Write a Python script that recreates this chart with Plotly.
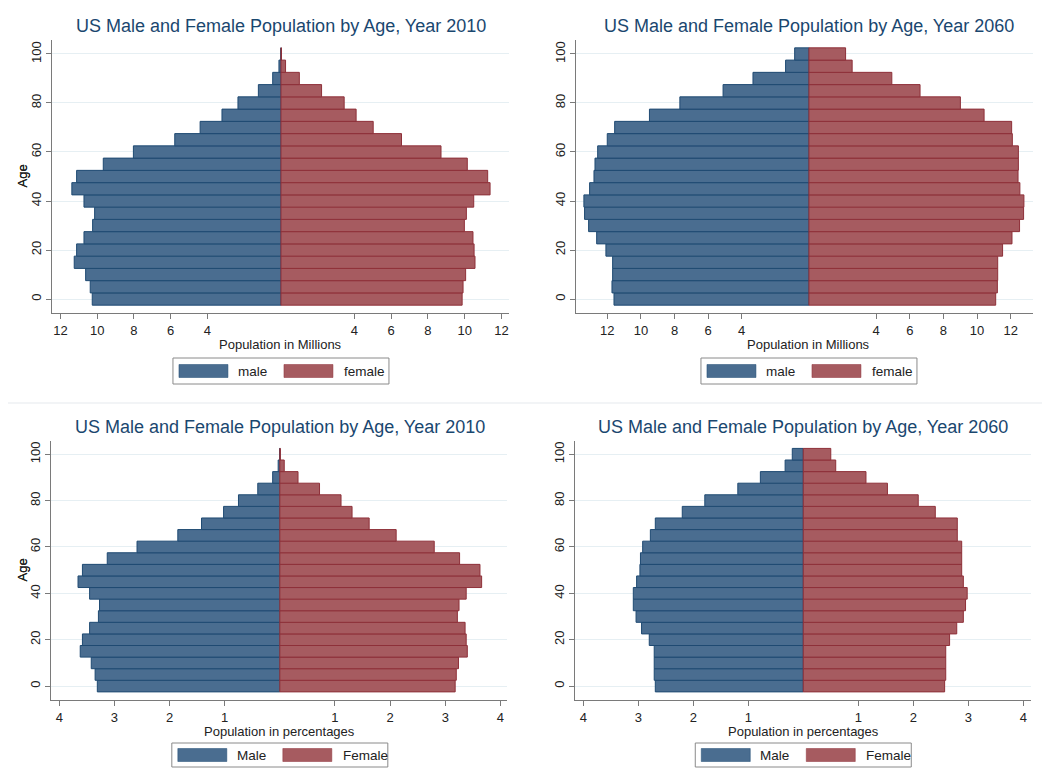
import plotly.graph_objects as go

# ---------------- data ----------------
ages = [0, 5, 10, 15, 20, 25, 30, 35, 40, 45, 50, 55, 60, 65, 70, 75, 80, 85, 90, 95, 100]

male_2010_mil = [10.27, 10.38, 10.63, 11.25, 11.12, 10.72, 10.25, 10.14, 10.72, 11.38, 11.12,
                 9.67, 8.03, 5.78, 4.40, 3.21, 2.34, 1.23, 0.45, 0.11, 0.01]
female_2010_mil = [9.86, 9.91, 10.05, 10.56, 10.51, 10.45, 9.98, 10.09, 10.49, 11.38, 11.25,
                   10.14, 8.71, 6.56, 5.02, 4.09, 3.44, 2.21, 1.00, 0.25, 0.03]

male_2060_mil = [11.60, 11.72, 11.68, 11.68, 12.08, 12.63, 13.11, 13.35, 13.39, 13.05, 12.79,
                 12.73, 12.57, 12.00, 11.56, 9.49, 7.68, 5.11, 3.33, 1.39, 0.85]
female_2060_mil = [11.11, 11.21, 11.23, 11.23, 11.52, 12.08, 12.53, 12.77, 12.79, 12.55, 12.44,
                   12.46, 12.46, 12.10, 12.06, 10.42, 9.01, 6.61, 4.93, 2.57, 2.18]

male_2010_pct = [3.31, 3.35, 3.42, 3.62, 3.58, 3.45, 3.29, 3.27, 3.45, 3.66, 3.58,
                 3.13, 2.59, 1.85, 1.42, 1.02, 0.75, 0.40, 0.13, 0.03, 0.005]
female_2010_pct = [3.18, 3.20, 3.24, 3.40, 3.38, 3.36, 3.22, 3.25, 3.38, 3.66, 3.63,
                   3.26, 2.80, 2.11, 1.62, 1.31, 1.11, 0.72, 0.33, 0.08, 0.01]

male_2060_pct = [2.69, 2.71, 2.71, 2.71, 2.80, 2.94, 3.04, 3.09, 3.09, 3.03, 2.97,
                 2.96, 2.92, 2.78, 2.69, 2.20, 1.79, 1.19, 0.78, 0.33, 0.20]
female_2060_pct = [2.57, 2.59, 2.59, 2.59, 2.66, 2.79, 2.91, 2.95, 2.98, 2.91, 2.88,
                   2.88, 2.88, 2.80, 2.80, 2.40, 2.09, 1.53, 1.14, 0.59, 0.50]

age_ticks = [0, 20, 40, 60, 80, 100]
mil_ticks = [-12, -10, -8, -6, -4, 4, 6, 8, 10, 12]
pct_ticks = [-4, -3, -2, -1, 1, 2, 3, 4]

titles = ["US Male and Female Population by Age, Year 2010",
          "US Male and Female Population by Age, Year 2060",
          "US Male and Female Population by Age, Year 2010",
          "US Male and Female Population by Age, Year 2060"]
x_titles = ["Population in Millions", "Population in Millions",
            "Population in percentages", "Population in percentages"]
legend_labels = [("male", "female"), ("male", "female"), ("Male", "Female"), ("Male", "Female")]

# ---------------- style ----------------
PAGE_OFF = 8                      # default body margin of the html page
W, H = 1050 - PAGE_OFF, 768 - PAGE_OFF
MALE_FILL, MALE_LINE = "#4a6d90", "#1f4a72"
FEM_FILL, FEM_LINE = "#a65b60", "#8e3039"
TITLE_COLOR = "#1a476f"
AXIS_COLOR = "#7a7a7a"
GRID_COLOR = "#e6eff3"
FONT = "Arial, Liberation Sans, sans-serif"

# panel plot areas in page pixels: (left, right, top, bottom)
panels = [
    (52, 509, 40, 313),
    (576, 1033, 40, 313),
    (51, 507, 441, 700),
    (575, 1031, 441, 700),
]
x_ranges = [(-12.46, 12.41), (-13.86, 13.33), (-4.15, 4.12), (-4.15, 4.14)]
y_ranges = [(-5.7, 105.7), (-5.7, 105.7), (-6.0, 105.7), (-6.0, 105.7)]

series = [
    (male_2010_mil, female_2010_mil, mil_ticks),
    (male_2060_mil, female_2060_mil, mil_ticks),
    (male_2010_pct, female_2010_pct, pct_ticks),
    (male_2060_pct, female_2060_pct, pct_ticks),
]

def px(x):
    return (x - PAGE_OFF) / W

def py(y):
    return 1 - (y - PAGE_OFF) / H

fig = go.Figure()
layout = dict(
    width=W, height=H,
    margin=dict(l=0, r=0, t=0, b=0, autoexpand=False),
    paper_bgcolor="white", plot_bgcolor="white",
    showlegend=False, barmode="overlay",
    font=dict(family=FONT, size=13, color="#222"),
)
annotations = []
shapes = []

for i, ((male, female, ticks), (l, r, t, b)) in enumerate(zip(series, panels)):
    n = "" if i == 0 else str(i + 1)
    xa, ya = "x" + n, "y" + n
    fig.add_trace(go.Bar(y=ages, x=[-v for v in male], orientation="h", width=5,
                         marker=dict(color=MALE_FILL, line=dict(color=MALE_LINE, width=1)),
                         xaxis=xa, yaxis=ya, hoverinfo="skip"))
    fig.add_trace(go.Bar(y=ages, x=female, orientation="h", width=5,
                         marker=dict(color=FEM_FILL, line=dict(color=FEM_LINE, width=1)),
                         xaxis=xa, yaxis=ya, hoverinfo="skip"))
    layout["xaxis" + n] = dict(
        domain=[px(l), px(r)], anchor=ya, range=list(x_ranges[i]), automargin=False,
        tickvals=ticks, ticktext=[str(abs(v)) for v in ticks],
        showgrid=False, zeroline=False, showline=True, linecolor=AXIS_COLOR, linewidth=1,
        ticks="outside", ticklen=5, tickcolor=AXIS_COLOR,
        tickfont=dict(size=13, color="#222"), fixedrange=True,
    )
    layout["yaxis" + n] = dict(
        domain=[py(b), py(t)], anchor=xa, range=list(y_ranges[i]), automargin=False,
        tickvals=age_ticks, tickangle=-90,
        showgrid=True, gridcolor=GRID_COLOR, gridwidth=1, zeroline=False,
        showline=True, linecolor=AXIS_COLOR, linewidth=1,
        ticks="outside", ticklen=5, tickcolor=AXIS_COLOR,
        tickfont=dict(size=13, color="#222"), fixedrange=True,
    )

    # zero position in page pixels
    x0, x1 = x_ranges[i]
    zero_px = l + (0 - x0) / (x1 - x0) * (r - l)

    # title
    annotations.append(dict(text=titles[i], x=px(zero_px), y=py(t - 14), xref="paper", yref="paper",
                            xanchor="center", yanchor="middle", showarrow=False,
                            font=dict(size=18, color=TITLE_COLOR, family=FONT)))
    # axis titles
    annotations.append(dict(text=x_titles[i], x=px(zero_px), y=py(b + 31), xref="paper", yref="paper",
                            xanchor="center", yanchor="middle", showarrow=False, borderpad=0,
                            font=dict(size=13, color="#222", family=FONT)))
    annotations.append(dict(text="Age", x=px(22), y=py((t + b) / 2), xref="paper", yref="paper",
                            xanchor="center", yanchor="middle", showarrow=False, textangle=-90,
                            font=dict(size=13, color="#222", family=FONT)))

    # legend (drawn manually to mimic wide swatches)
    box_l = zero_px - 108
    box_t = b + 45 if i < 2 else b + 43
    box_b = box_t + 26 if i < 2 else box_t + 24
    mid = (box_t + box_b) / 2
    shapes.append(dict(type="rect", xref="paper", yref="paper",
                       x0=px(box_l), x1=px(box_l + 216), y0=py(box_b), y1=py(box_t),
                       line=dict(color="#8a8a8a", width=1), fillcolor="white"))
    for (sx, color, lcolor, tx, label) in [
        (6, MALE_FILL, MALE_LINE, 63, legend_labels[i][0]),
        (111, FEM_FILL, FEM_LINE, 169, legend_labels[i][1]),
    ]:
        shapes.append(dict(type="rect", xref="paper", yref="paper",
                           x0=px(box_l + sx), x1=px(box_l + sx + 49),
                           y0=py(mid + 6.5), y1=py(mid - 6.5),
                           line=dict(color=lcolor, width=0.5), fillcolor=color))
        annotations.append(dict(text=label, x=px(box_l + tx), y=py(mid), xref="paper", yref="paper",
                                xanchor="left", yanchor="middle", showarrow=False,
                                font=dict(size=13.5, color="#222", family=FONT)))

# faint separator between graph rows
shapes.append(dict(type="line", xref="paper", yref="paper", x0=0, x1=1,
                   y0=py(403), y1=py(403), line=dict(color="#eef1f3", width=1.5)))

layout["annotations"] = annotations
layout["shapes"] = shapes
fig.update_layout(**layout)
fig.write_html("out.html")
